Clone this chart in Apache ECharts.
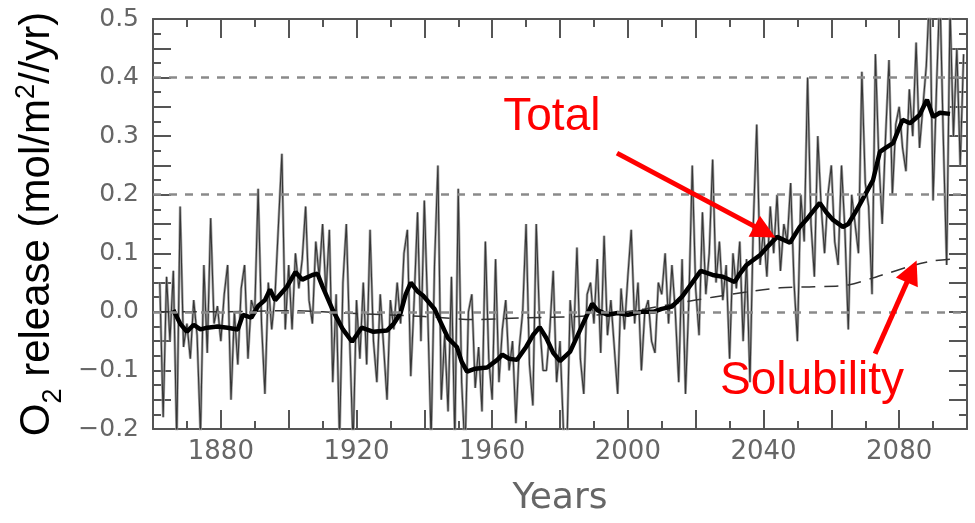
<!DOCTYPE html>
<html><head><meta charset="utf-8">
<script src="https://cdn.jsdelivr.net/npm/echarts@6/dist/echarts.min.js"></script>
<style>html,body{margin:0;padding:0;background:#fff}#c{width:975px;height:523px}</style>
</head><body><div id="c"></div>
<script>
// ---- data ----
const noiseStartYear = 1862;
const noiseValues = [
 0.05,-0.18,0.06,-0.05,0.07,-0.22,0.18,-0.06,-0.02,-0.08, // 1862-1871
 0.02,-0.04,-0.21,0.08,-0.07,0.16,-0.02,0.01,-0.05,0.03,  // 1872-1881
 0.08,-0.15,0.0,-0.09,0.04,0.08,-0.08,0.02,0.0,0.21,      // 1882-1891
 -0.02,-0.14,0.05,-0.03,0.03,0.15,0.27,-0.03,0.08,-0.03,  // 1892-1901
 0.10,0.04,0.09,0.18,0.02,-0.02,0.12,0.06,0.15,0.03,      // 1902-1911
 0.14,-0.12,0.03,-0.22,0.05,0.15,-0.05,-0.23,0.02,-0.08,  // 1912-1921
 0.05,-0.09,0.14,-0.05,-0.12,0.03,-0.06,-0.15,0.02,-0.03, // 1922-1931
 0.05,-0.02,0.10,0.14,-0.11,0.02,0.17,-0.05,0.19,0.0,     // 1932-1941
 -0.22,0.08,0.25,-0.15,-0.04,-0.17,0.06,-0.22,0.21,-0.12, // 1942-1951
 -0.24,0.0,0.03,-0.13,-0.06,-0.17,0.12,-0.08,-0.15,0.09,  // 1952-1961
 -0.12,-0.03,0.02,-0.10,-0.05,-0.19,-0.06,0.0,0.15,-0.09, // 1962-1971
 -0.16,0.15,-0.02,-0.10,-0.10,-0.03,0.07,-0.12,-0.05,-0.20, // 1972-1981
 -0.24,0.02,-0.05,0.11,-0.08,-0.14,0.03,0.05,-0.02,0.09,  // 1982-1991
 -0.07,0.13,-0.04,0.02,-0.06,-0.14,0.04,-0.03,0.06,0.14,  // 1992-2001
 -0.02,0.05,-0.10,0.0,0.02,-0.05,-0.07,0.05,0.03,0.10,    // 2002-2011
 -0.02,0.08,0.0,-0.12,0.09,-0.14,0.02,0.25,0.04,-0.04,    // 2012-2021
 0.17,0.03,0.10,0.26,0.05,0.12,0.02,0.08,-0.08,0.10,      // 2022-2031
 0.04,0.12,-0.05,0.09,-0.12,0.15,0.32,0.08,0.14,0.06,     // 2032-2041
 0.18,0.10,0.20,0.07,0.15,0.12,0.22,0.05,-0.05,0.20,      // 2042-2051
 0.12,0.40,0.15,0.06,0.30,0.18,0.10,0.20,0.25,0.12,       // 2052-2061
 0.08,0.25,0.14,-0.03,0.20,0.15,0.10,0.41,0.22,0.18,      // 2062-2071
 0.03,0.44,0.26,0.15,0.30,0.43,0.20,0.32,0.35,0.28,       // 2072-2081
 0.24,0.38,0.30,0.46,0.28,0.35,0.42,0.55,0.19,0.38,       // 2082-2091
 0.55,0.30,0.08,0.52,0.30,0.45,0.25,0.44                  // 2092-2099
];
const totalSmooth = [
 [1866,0.003],[1868,-0.02],[1870,-0.034],[1872,-0.022],[1874,-0.03],[1876,-0.027],[1879,-0.025],
 [1882,-0.027],[1885,-0.03],[1886.5,-0.005],[1889,-0.01],[1891,0.01],[1893,0.02],[1894.5,0.038],
 [1896,0.02],[1899.5,0.043],[1902,0.068],[1904,0.055],[1907,0.063],[1908.5,0.065],[1910,0.043],
 [1913,0.003],[1916,-0.03],[1918.7,-0.051],[1921.5,-0.027],[1925,-0.034],[1929,-0.032],[1931,-0.02],
 [1933,-0.002],[1934.5,0.03],[1936,0.05],[1938,0.035],[1939.6,0.028],[1943,0.005],[1945,-0.02],
 [1947,-0.045],[1949.6,-0.06],[1951,-0.085],[1952.6,-0.102],[1955,-0.097],[1958.5,-0.095],
 [1961.5,-0.082],[1963,-0.073],[1965,-0.08],[1967.3,-0.082],[1970,-0.06],[1972,-0.04],[1974,-0.026],
 [1976,-0.045],[1978,-0.07],[1980,-0.084],[1983,-0.068],[1986,-0.03],[1989.5,0.014],[1991,0.003],
 [1994,-0.005],[1997,-0.002],[2000,-0.005],[2004,0.0],[2007.5,0.0],[2010,0.005],[2013,0.009],
 [2016,0.026],[2019,0.05],[2021.5,0.07],[2025,0.063],[2028,0.06],[2031.5,0.051],[2033,0.065],
 [2035,0.08],[2039,0.097],[2041,0.11],[2044,0.128],[2047.8,0.118],[2050.7,0.145],[2053,0.16],
 [2056.6,0.186],[2058.5,0.17],[2060.5,0.157],[2063.4,0.145],[2065,0.15],[2067.5,0.174],[2069,0.19],
 [2072.3,0.225],[2074.3,0.273],[2076,0.28],[2078.2,0.288],[2081,0.328],[2083.2,0.322],[2086,0.336],
 [2088.2,0.362],[2090,0.333],[2092,0.34],[2095,0.338]
];
const solubility = [
 [1862,0.0],[1880,0.0],[1900,0.002],[1920,-0.003],[1940,-0.008],[1955,-0.013],[1970,-0.01],
 [1985,-0.008],[1995,-0.003],[2005,0.005],[2015,0.015],[2025,0.025],[2035,0.034],[2045,0.041],
 [2055,0.043],[2065,0.046],[2075,0.063],[2084,0.079],[2090,0.087],[2095,0.09]
];
const gridLevels = [0, 0.2, 0.4];
const xRange = [1860, 2100];
const yRange = [-0.2, 0.5];
const annotations = [
 {text:'Total', at:[1977.6,0.333], from:[1996.8,0.271], to:[2040.4,0.1365]},
 {text:'Solubility', at:[2054.3,-0.118], from:[2072.9,-0.0717], to:[2083.7,0.069]}
];

// ---- chart ----
const noise = noiseValues.map((v,i)=>[noiseStartYear+i, v]);
const frame = '#555';
const tickCol = '#555';
const labelFont = 'DejaVu Sans';

function xAxisBase(pos, labels){
  return {
    type:'value', position:pos, min:xRange[0], max:xRange[1], interval:20,
    axisLine:{show:true, onZero:false, lineStyle:{color:frame, width:2}},
    axisTick:{show:true, inside:true, length:19, lineStyle:{color:tickCol, width:2}},
    minorTick:{show:true, splitNumber:2, length:8, lineStyle:{color:tickCol, width:2}},
    splitLine:{show:false}, minorSplitLine:{show:false},
    axisLabel:{show:labels, margin:10, color:'#666', fontFamily:labelFont, fontSize:26,
      formatter:v=> (Math.round(v)%40===0 ? String(Math.round(v)) : '')},
    name: labels ? 'Years' : '', nameLocation:'middle', nameGap:52,
    nameTextStyle:{color:'#666', fontFamily:labelFont, fontSize:36}
  };
}
function yAxisBase(pos, labels){
  return {
    type:'value', position:pos, min:yRange[0], max:yRange[1], interval:0.05,
    axisLine:{show:true, onZero:false, lineStyle:{color:frame, width:2}},
    axisTick:{show:true, inside:true, length:18, lineStyle:{color:tickCol, width:2}},
    minorTick:{show:true, splitNumber:2, length:8, lineStyle:{color:tickCol, width:2}},
    splitLine:{show:false}, minorSplitLine:{show:false},
    axisLabel:{show:labels, margin:14, color:'#666', fontFamily:labelFont, fontSize:25,
      formatter:v=>{const r=Math.round(v*100); if(r%10!==0) return ''; return (r<0?'\u2212':'')+(Math.abs(r)/100).toFixed(1);}},
    name: labels ? '{a|O}{s|2}{a| release (mol/m}{p|2}{a|//yr)}' : '',
    nameLocation:'middle', nameGap:92, nameRotate:90,
    nameTextStyle:{
      fontFamily:'Liberation Sans', color:'#000', fontSize:42,
      rich:{
        a:{fontFamily:'Liberation Sans', fontSize:42, color:'#000', lineHeight:48},
        s:{fontFamily:'Liberation Sans', fontSize:27, color:'#000', verticalAlign:'bottom', lineHeight:48, padding:[0,0,-6,0]},
        p:{fontFamily:'Liberation Sans', fontSize:27, color:'#000', verticalAlign:'top', lineHeight:48, padding:[0,0,12,0]}
      }
    }
  };
}

const chart = echarts.init(document.getElementById('c'), null, {renderer:'canvas'});
chart.setOption({
  animation:false,
  backgroundColor:'#fff',
  grid:{left:153, right:8, top:19, bottom:94, outerBoundsMode:'none', containLabel:false},
  xAxis:[xAxisBase('bottom', true), xAxisBase('top', false)],
  yAxis:[yAxisBase('left', true), yAxisBase('right', false)],
  series:[
    { type:'line', name:'grid', data:[], z:1, silent:true,
      markLine:{silent:true, symbol:['none','none'], label:{show:false},
        lineStyle:{color:'#8a8a8a', width:2.5, type:[8,8]},
        emphasis:{disabled:true},
        data: gridLevels.map(v=>({yAxis:v}))}
    },
    { type:'line', name:'noise-gray', data:noise, showSymbol:false, z:2, silent:true,
      lineStyle:{color:'#9a9a9a', width:2.6, opacity:0.9} },
    { type:'line', name:'noise', data:noise, showSymbol:false, z:2, silent:true,
      lineStyle:{color:'#2a2a2a', width:1.1, opacity:0.9} },
    { type:'line', name:'Solubility', data:solubility, showSymbol:false, z:3, silent:true, smooth:0.3,
      lineStyle:{color:'#333', width:1.5, type:[14,9]} },
    { type:'line', name:'Total', data:totalSmooth, showSymbol:false, z:4, silent:true,
      lineStyle:{color:'#000', width:4.5} },
    { type:'line', name:'annot', data:[], z:10, silent:true,
      markLine:{silent:true, symbol:['none','triangle'], symbolSize:24, label:{show:false},
        lineStyle:{color:'#ff0000', width:5, type:'solid'}, emphasis:{disabled:true},
        data: annotations.map(a=>[{coord:a.from},{coord:a.to}])},
      markPoint:{silent:true, symbol:'circle', symbolSize:1, itemStyle:{color:'rgba(0,0,0,0)'},
        label:{show:true, position:'inside', color:'#ff0000', fontFamily:'Liberation Sans', fontSize:46},
        data: annotations.map(a=>({coord:a.at, value:a.text, label:{formatter:a.text}}))}
    }
  ]
});
</script></body></html>
